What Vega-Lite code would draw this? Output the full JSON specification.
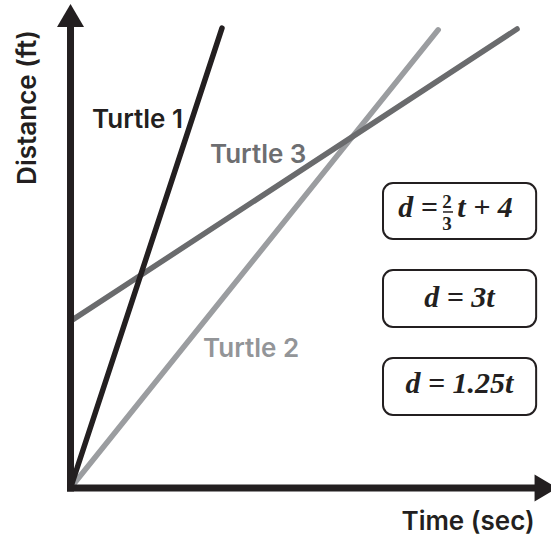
{
  "$schema": "https://vega.github.io/schema/vega-lite/v6.json",
  "width": 551,
  "height": 542,
  "padding": 0,
  "autosize": {"type": "none"},
  "background": "white",
  "config": {"view": {"stroke": null}},
  "datasets": {
    "lines": [
      {"turtle": "Turtle 1", "t": 0, "d": 0},
      {"turtle": "Turtle 1", "t": 3.65, "d": 11.08},
      {"turtle": "Turtle 2", "t": 0, "d": 0},
      {"turtle": "Turtle 2", "t": 8.86, "d": 11.04},
      {"turtle": "Turtle 3", "t": 0, "d": 4.02},
      {"turtle": "Turtle 3", "t": 10.76, "d": 11.06}
    ],
    "axes": [
      {"axis": "y", "t": 0, "d": 0, "t2": 0, "d2": 11.2},
      {"axis": "x", "t": 0, "d": 0, "t2": 11.2, "d2": 0}
    ],
    "arrows": [
      {"axis": "y", "t": 0, "d": 11.386},
      {"axis": "x", "t": 11.458, "d": 0}
    ],
    "labels": [
      {"label": "Turtle 1", "t": 0.518, "d": 8.675},
      {"label": "Turtle 3", "t": 3.36, "d": 7.831},
      {"label": "Turtle 2", "t": 3.193, "d": 3.157}
    ],
    "xtitle": [{"label": "Time (sec)", "t": 9.58, "d": -1.012}],
    "ytitle": [{"label": "Distance (ft)", "t": -0.831, "d": 9.169}],
    "boxes": [
      {"eq": "1", "t": 7.53, "t2": 11.22, "d": 7.349, "d2": 6.0},
      {"eq": "2", "t": 7.53, "t2": 11.22, "d": 5.253, "d2": 3.88},
      {"eq": "3", "t": 7.53, "t2": 11.22, "d": 3.133, "d2": 1.759}
    ],
    "eqs": [
      {"text": "d = 3t", "t": 9.373, "d": 4.361},
      {"text": "d = 1.25t", "t": 9.373, "d": 2.289},
      {"text": "d =", "t": 8.373, "d": 6.53},
      {"text": "t + 4", "t": 9.988, "d": 6.53}
    ],
    "frac": [
      {"text": "2", "t": 9.072, "d": 6.747},
      {"text": "3", "t": 9.072, "d": 6.217}
    ],
    "bar": [{"t": 8.976, "t2": 9.217, "d": 6.651}]
  },
  "encoding": {
    "x": {"field": "t", "type": "quantitative", "scale": {"domain": [-1.699, 11.578], "nice": false, "zero": false}, "axis": null},
    "y": {"field": "d", "type": "quantitative", "scale": {"domain": [-1.301, 11.759], "nice": false, "zero": false}, "axis": null}
  },
  "layer": [
    {
      "data": {"name": "lines"},
      "transform": [{"filter": "datum.turtle === 'Turtle 2'"}],
      "mark": {"type": "line", "strokeWidth": 5.5, "strokeCap": "round", "color": "#9b9da0"},
      "encoding": {"detail": {"field": "turtle"}}
    },
    {
      "data": {"name": "lines"},
      "transform": [{"filter": "datum.turtle === 'Turtle 3'"}],
      "mark": {"type": "line", "strokeWidth": 5.5, "strokeCap": "round", "color": "#6a6b6d"},
      "encoding": {"detail": {"field": "turtle"}}
    },
    {
      "data": {"name": "lines"},
      "transform": [{"filter": "datum.turtle === 'Turtle 1'"}],
      "mark": {"type": "line", "strokeWidth": 5.5, "strokeCap": "round", "color": "#231f20"},
      "encoding": {"detail": {"field": "turtle"}}
    },
    {
      "data": {"name": "axes"},
      "mark": {"type": "rule", "strokeWidth": 7, "strokeCap": "square", "color": "#231f20"},
      "encoding": {
        "x2": {"field": "t2"},
        "y2": {"field": "d2"}
      }
    },
    {
      "data": {"name": "arrows"},
      "mark": {"type": "point", "shape": "M-1,0.85L0,-0.85L1,0.85Z", "size": 729, "filled": true, "color": "#231f20", "opacity": 1},
      "encoding": {
        "angle": {"field": "axis", "type": "nominal", "scale": {"domain": ["y", "x"], "range": [0, 90]}, "legend": null}
      }
    },
    {
      "data": {"name": "labels"},
      "mark": {"type": "text", "align": "left", "baseline": "alphabetic", "font": "Inter", "fontWeight": 600, "fontSize": 26},
      "encoding": {
        "text": {"field": "label"},
        "color": {"field": "label", "type": "nominal", "scale": {"domain": ["Turtle 1", "Turtle 2", "Turtle 3"], "range": ["#231f20", "#939598", "#6d6e71"]}, "legend": null}
      }
    },
    {
      "data": {"name": "xtitle"},
      "mark": {"type": "text", "align": "center", "baseline": "alphabetic", "font": "Inter", "fontWeight": 600, "fontSize": 26, "color": "#231f20"},
      "encoding": {"text": {"field": "label"}}
    },
    {
      "data": {"name": "ytitle"},
      "mark": {"type": "text", "align": "center", "baseline": "alphabetic", "angle": 270, "font": "Inter", "fontWeight": 600, "fontSize": 26, "color": "#231f20"},
      "encoding": {"text": {"field": "label"}}
    },
    {
      "data": {"name": "boxes"},
      "mark": {"type": "rect", "fill": "white", "stroke": "#231f20", "strokeWidth": 2, "cornerRadius": 10},
      "encoding": {
        "x2": {"field": "t2"},
        "y2": {"field": "d2"}
      }
    },
    {
      "data": {"name": "eqs"},
      "mark": {"type": "text", "align": "center", "baseline": "alphabetic", "font": "Liberation Serif", "fontStyle": "italic", "fontWeight": "bold", "fontSize": 30, "color": "#231f20"},
      "encoding": {"text": {"field": "text"}}
    },
    {
      "data": {"name": "frac"},
      "mark": {"type": "text", "align": "center", "baseline": "alphabetic", "font": "Liberation Serif", "fontWeight": "bold", "fontSize": 19, "color": "#231f20"},
      "encoding": {"text": {"field": "text"}}
    },
    {
      "data": {"name": "bar"},
      "mark": {"type": "rule", "strokeWidth": 1.5, "color": "#231f20"},
      "encoding": {"x2": {"field": "t2"}}
    }
  ]
}
